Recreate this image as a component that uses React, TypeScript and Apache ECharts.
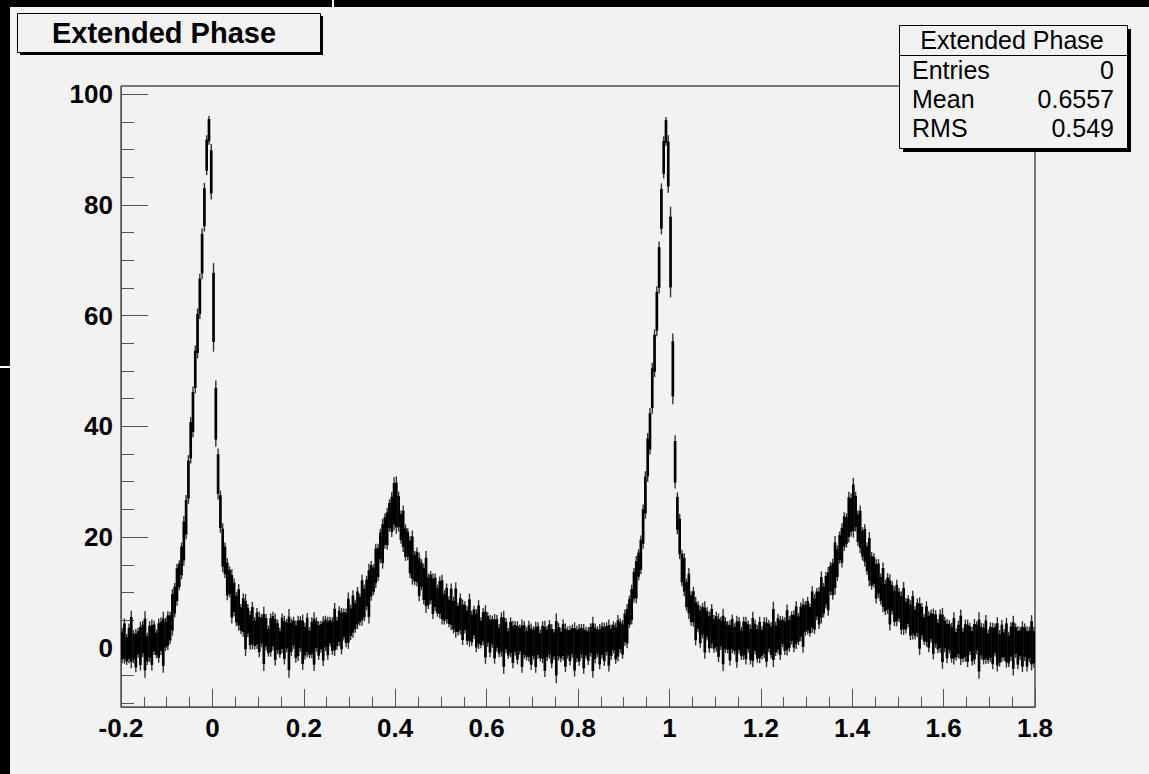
import React, { useEffect, useRef } from "react";
import * as echarts from "echarts";

// ---- Histogram "Extended Phase" (bin width 0.005 from -0.2 to 1.8) ----
const xStart = -0.2;
const binWidth = 0.005;

const binValues: number[] = [
  // -0.2 .. -0.1
  0.4, 1.2, -0.3, 0.8, 1.5, 0.2, -0.5, 0.9, 0.3, 1.6, 0.6, -0.2, 1.1, 0.5, 1.8, 0.7, 1.3, 2.1, 1.0, 2.4,
  // -0.1 .. 0 (peak 1 rising)
  3.1, 3.6, 6.4, 8.6, 11.4, 13.1, 15.7, 19.3, 23.6, 30.4, 37.5, 42.6, 50.3, 56.8, 63.5, 71.2, 79.6, 89.0, 93.5, 86.0,
  // 0 .. 0.1 (peak 1 falling)
  61.5, 42.3, 31.4, 24.6, 18.1, 15.8, 12.4, 11.9, 9.3, 9.1, 7.0, 7.3, 5.2, 5.9, 4.1, 4.9, 3.2, 4.0, 2.6, 3.5,
  // 0.1 .. 0.2
  2.4, 3.1, 1.6, 2.8, 1.2, 2.3, 3.0, 1.5, 2.0, 0.9, 2.6, 1.4, 2.2, 0.8, 1.9, 2.7, 1.1, 1.7, 2.5, 1.0,
  // 0.2 .. 0.3
  1.2, 2.3, 0.9, 1.8, 1.1, 2.4, 1.3, 2.0, 1.2, 2.6, 1.7, 2.9, 2.1, 3.3, 2.6, 3.9, 3.0, 4.2, 3.6, 4.9,
  // 0.3 .. 0.4 (peak 2 rising)
  4.6, 6.1, 5.7, 7.2, 6.9, 8.6, 8.1, 9.9, 9.8, 12.1, 12.3, 14.8, 15.4, 18.4, 18.8, 21.1, 21.5, 23.9, 24.1, 26.0,
  // 0.4 .. 0.5 (peak 2 falling)
  25.8, 24.6, 21.8, 21.5, 19.0, 18.7, 16.4, 16.3, 14.4, 14.6, 12.8, 13.2, 11.5, 11.9, 10.2, 10.9, 9.3, 10.0, 8.5, 9.1,
  // 0.5 .. 0.6
  8.7, 7.3, 8.0, 6.5, 7.4, 5.9, 6.8, 5.2, 6.1, 4.6, 5.5, 4.0, 5.0, 3.5, 4.6, 3.1, 4.2, 2.7, 3.8, 2.4,
  // 0.6 .. 0.7
  3.3, 2.1, 2.9, 1.6, 2.6, 1.3, 2.4, 1.0, 2.2, 0.8, 1.9, 0.6, 1.7, 0.9, 1.5, 0.3, 1.4, 0.7, 1.2, 0.2,
  // 0.7 .. 0.8
  0.9, 0.1, 1.3, 0.4, 1.0, -0.2, 0.8, 1.5, 0.3, 0.6, -0.1, 1.1, 0.5, 1.4, 0.0, 0.9, 0.4, 1.2, -0.3, 0.7,
  // 0.8 .. 0.9
  0.5, 1.2, -0.2, 0.9, 0.3, 1.4, 0.1, 0.8, 1.1, 0.2, 1.3, 0.6, 1.6, 0.4, 1.0, 1.9, 0.8, 1.7, 2.2, 1.5,
  // 0.9 .. 1.0 (peak 3 rising)
  3.6, 3.9, 6.5, 7.8, 11.3, 12.3, 15.0, 16.8, 21.9, 27.6, 34.4, 39.1, 46.9, 53.2, 60.8, 68.7, 79.3, 88.6, 93.3, 87.4,
  // 1.0 .. 1.1 (peak 3 falling)
  71.5, 50.4, 33.6, 24.3, 20.1, 14.4, 13.2, 9.6, 9.8, 7.1, 7.4, 4.8, 5.6, 3.8, 4.9, 3.2, 4.3, 2.8, 3.9, 2.5,
  // 1.1 .. 1.2
  2.9, 1.8, 2.6, 1.4, 2.3, 1.9, 0.9, 2.5, 1.6, 1.1, 2.2, 0.8, 1.7, 1.3, 2.0, 0.6, 1.5, 1.9, 0.7, 1.4,
  // 1.2 .. 1.3
  0.9, 1.8, 1.0, 2.1, 1.3, 2.4, 1.6, 2.5, 1.8, 2.9, 2.1, 3.2, 2.5, 3.6, 3.0, 4.1, 3.4, 4.7, 4.0, 5.3,
  // 1.3 .. 1.4 (peak 4 rising)
  5.8, 5.0, 6.9, 6.1, 7.9, 7.2, 9.1, 8.6, 10.4, 10.2, 12.5, 12.4, 14.9, 15.3, 18.1, 18.5, 21.0, 21.2, 23.6, 24.0,
  // 1.4 .. 1.5 (peak 4 falling)
  25.3, 24.6, 21.6, 21.4, 18.8, 18.5, 16.1, 16.0, 13.9, 14.0, 12.0, 12.5, 10.6, 10.9, 9.1, 9.8, 8.2, 9.0, 7.5, 8.1,
  // 1.5 .. 1.6
  7.7, 6.3, 7.1, 5.8, 6.6, 5.0, 5.9, 4.5, 5.4, 3.9, 4.8, 3.3, 4.3, 2.9, 3.9, 2.5, 3.4, 2.1, 3.0, 1.7,
  // 1.6 .. 1.7
  2.4, 1.2, 2.0, 0.9, 1.7, 0.6, 1.5, 1.9, 0.5, 1.3, 0.8, 1.6, 0.3, 1.1, 1.8, 0.4, 1.2, 0.7, 1.5, 0.2,
  // 1.7 .. 1.8
  1.0, 0.3, 1.4, 0.6, -0.1, 1.2, 0.5, 0.9, -0.3, 1.1, 0.4, 1.3, 0.0, 0.8, 0.2, 1.0, -0.2, 0.6, 0.9, 0.1,
];

const binErrors: number[] = [
  3.2, 4.1, 2.8, 3.6, 5.2, 3.0, 3.9, 2.7, 4.4, 3.3, 6.0, 2.9, 3.7, 4.6, 3.1, 2.6, 4.0, 3.4, 5.5, 3.0,
  3.5, 2.9, 4.2, 3.1, 3.8, 2.7, 3.3, 4.5, 4.0, 4.4, 4.2, 4.6, 4.3, 4.5, 4.1, 4.6, 4.4, 3.6, 2.6, 5.0,
  8.0, 6.0, 4.6, 3.8, 4.4, 3.2, 3.8, 2.8, 4.9, 3.4, 3.1, 4.2, 2.7, 3.9, 5.6, 3.0, 3.5, 4.3, 2.9, 3.7,
  4.1, 3.0, 5.8, 3.3, 2.8, 3.9, 3.5, 4.7, 3.1, 2.7, 3.6, 4.4, 3.0, 6.2, 3.4, 2.9, 3.8, 4.1, 3.2, 5.0,
  3.3, 4.0, 2.8, 3.7, 5.3, 3.1, 3.5, 2.9, 4.5, 3.2, 3.9, 2.7, 3.4, 4.8, 3.0, 3.6, 4.2, 2.9, 3.5, 5.1,
  3.2, 4.3, 3.0, 3.8, 2.9, 4.6, 3.3, 3.1, 5.4, 3.6, 2.8, 4.0, 3.4, 3.1, 4.5, 3.2, 3.8, 2.9, 4.1, 4.8,
  5.2, 3.6, 3.0, 4.2, 3.3, 2.9, 3.8, 4.9, 3.1, 3.5, 4.4, 2.8, 3.7, 5.6, 3.2, 3.0, 4.1, 3.4, 2.9, 3.8,
  4.5, 3.1, 3.6, 2.8, 4.2, 3.3, 5.0, 3.0, 3.7, 4.1, 2.9, 3.5, 4.8, 3.2, 3.0, 3.9, 4.4, 2.8, 3.4, 5.3,
  3.1, 3.8, 2.9, 4.5, 3.3, 3.0, 4.0, 5.7, 3.2, 2.8, 3.6, 4.3, 3.1, 3.9, 2.7, 4.8, 3.4, 3.0, 3.7, 4.2,
  3.0, 4.6, 3.3, 2.9, 3.8, 5.1, 3.2, 3.5, 4.0, 2.8, 6.3, 3.4, 3.1, 3.7, 4.4, 2.9, 3.6, 3.0, 4.9, 3.3,
  3.8, 3.1, 4.5, 2.9, 3.4, 3.0, 5.5, 3.6, 2.8, 4.1, 3.3, 3.9, 3.0, 4.7, 3.2, 2.9, 3.7, 4.2, 3.1, 3.5,
  3.3, 4.0, 2.9, 3.6, 3.1, 4.3, 2.8, 3.5, 4.0, 4.3, 4.4, 4.2, 4.6, 4.3, 4.5, 4.7, 4.6, 3.8, 2.6, 5.2,
  8.2, 6.4, 4.8, 3.8, 4.1, 3.3, 3.9, 2.9, 4.6, 3.1, 3.6, 4.4, 2.8, 3.8, 3.2, 5.2, 3.0, 3.7, 4.0, 3.4,
  3.6, 4.4, 3.0, 5.6, 3.2, 2.9, 4.1, 3.5, 2.8, 4.7, 3.3, 3.0, 3.9, 4.3, 2.9, 3.6, 5.0, 3.1, 3.4, 4.2,
  3.0, 3.7, 4.5, 2.9, 3.3, 5.9, 3.1, 3.6, 4.0, 2.8, 3.4, 4.6, 3.2, 3.0, 3.8, 4.3, 2.9, 3.5, 4.9, 3.1,
  3.4, 3.0, 4.2, 3.6, 2.9, 3.8, 4.7, 3.1, 3.3, 4.4, 3.0, 3.7, 5.3, 3.2, 2.9, 4.0, 3.5, 3.1, 4.6, 3.9,
  5.4, 3.6, 3.2, 4.3, 3.0, 3.8, 2.9, 4.9, 3.4, 3.1, 4.0, 3.5, 2.8, 4.5, 3.2, 3.7, 5.1, 3.0, 3.6, 4.2,
  3.1, 3.9, 4.8, 3.2, 2.9, 3.6, 4.4, 3.0, 3.5, 5.2, 3.3, 2.8, 4.1, 3.7, 3.0, 4.6, 3.4, 3.1, 3.9, 5.5,
  3.2, 4.0, 3.0, 3.6, 4.7, 2.9, 3.4, 5.0, 3.1, 3.8, 4.3, 2.9, 3.5, 4.1, 3.0, 6.0, 3.3, 3.7, 4.4, 3.1,
  3.6, 4.2, 3.0, 4.9, 3.3, 3.8, 2.9, 4.5, 3.2, 3.5, 5.4, 3.1, 3.9, 3.0, 4.6, 3.4, 4.1, 3.2, 5.0, 3.7,
];

const yMajorTicks = [0, 20, 40, 60, 80, 100];
const yMinorTicks = [-10, -5, 5, 10, 15, 25, 30, 35, 45, 50, 55, 65, 70, 75, 85, 90, 95];
const xMin = -0.2;
const xMax = 1.8;
const yMin = -10.7;
const yMax = 101.5;

const titleText = "Extended Phase";
const statsTitle = "Extended Phase";
const statsLabels = ["Entries", "Mean", "RMS"];
const statsValues = ["0", "0.6557", "0.549"];

const FONT = "'Liberation Sans', Arial, Helvetica, sans-serif";
const BG = "#f2f2f2";

export default function App() {
  const ref = useRef<HTMLDivElement>(null);

  useEffect(() => {
    document.body.style.margin = "0";
    document.body.style.background = BG;
    if (!ref.current) return;
    const chart = echarts.init(ref.current, null, { renderer: "svg" });

    const data = binValues.map((v, i) => [xStart + (i + 0.5) * binWidth, v, binErrors[i]]);

    const statsRows: any[] = [];
    statsLabels.forEach((lab, i) => {
      statsRows.push({
        type: "text",
        x: 912,
        y: 70 + i * 29,
        style: { text: lab, font: `25px ${FONT}`, fill: "#000", verticalAlign: "middle" },
        z: 20,
      });
      statsRows.push({
        type: "text",
        x: 1114,
        y: 70 + i * 29,
        style: {
          text: statsValues[i],
          font: `25px ${FONT}`,
          fill: "#000",
          align: "right",
          verticalAlign: "middle",
        },
        z: 20,
      });
    });

    chart.setOption({
      animation: false,
      backgroundColor: BG,
      grid: {
        left: 121,
        top: 86,
        right: 114,
        bottom: 67,
        show: true,
        borderColor: "#000",
        borderWidth: 1,
        backgroundColor: "transparent",
      },
      xAxis: {
        type: "value",
        min: xMin,
        max: xMax,
        interval: 0.2,
        axisLine: { show: true, onZero: false, lineStyle: { color: "#555", width: 1 } },
        axisTick: { show: true, inside: true, length: 18, lineStyle: { color: "#555", width: 1 } },
        minorTick: { show: true, splitNumber: 4, length: 10, lineStyle: { color: "#555", width: 1 } },
        splitLine: { show: false },
        minorSplitLine: { show: false },
        axisLabel: {
          color: "#000",
          fontSize: 26,
          fontWeight: "bold",
          fontFamily: FONT,
          margin: 8,
          formatter: (v: number) => String(Math.round(v * 10) / 10),
        },
      },
      yAxis: [
        {
          type: "value",
          min: yMin,
          max: yMax,
          axisLine: { show: true, onZero: false, lineStyle: { color: "#555", width: 1 } },
          axisTick: {
            show: true,
            inside: true,
            length: 27,
            customValues: yMajorTicks,
            lineStyle: { color: "#555", width: 1 },
          },
          splitLine: { show: false },
          axisLabel: {
            customValues: yMajorTicks,
            color: "#000",
            fontSize: 26,
            fontWeight: "bold",
            fontFamily: FONT,
            margin: 8,
          },
        },
        {
          type: "value",
          min: yMin,
          max: yMax,
          position: "left",
          axisLine: { show: false, onZero: false },
          axisTick: {
            show: true,
            inside: true,
            length: 13,
            customValues: yMinorTicks,
            lineStyle: { color: "#555", width: 1 },
          },
          splitLine: { show: false },
          axisLabel: { show: false },
        },
      ],
      series: [
        {
          type: "custom",
          clip: true,
          data,
          renderItem: (params: any, api: any) => {
            const x = api.value(0);
            const v = api.value(1);
            const e = api.value(2);
            const outerTop = api.coord([x, v + e]);
            const outerBot = api.coord([x, v - e]);
            const coreL = api.coord([x - binWidth / 2, v + e * 0.78]);
            const coreR = api.coord([x + binWidth / 2, v - e * 0.78]);
            return {
              type: "group",
              children: [
                {
                  type: "line",
                  shape: { x1: outerTop[0], y1: outerTop[1], x2: outerBot[0], y2: outerBot[1] },
                  style: { stroke: "#333", lineWidth: 1.4 },
                },
                {
                  type: "rect",
                  shape: {
                    x: coreL[0] - 0.2,
                    y: coreL[1],
                    width: coreR[0] - coreL[0] + 0.4,
                    height: coreR[1] - coreL[1],
                  },
                  style: { fill: "#000" },
                },
              ],
            };
          },
        },
      ],
      graphic: [
        // screen edges
        { type: "rect", left: 0, top: 0, shape: { width: 1149, height: 7 }, style: { fill: "#000" }, z: 30 },
        { type: "rect", left: 0, top: 0, shape: { width: 10, height: 774 }, style: { fill: "#000" }, z: 30 },
        { type: "rect", left: 332, top: 0, shape: { width: 2, height: 7 }, style: { fill: "#fff" }, z: 31 },
        { type: "rect", left: 0, top: 366, shape: { width: 10, height: 2 }, style: { fill: "#fff" }, z: 31 },
        // title box
        { type: "rect", left: 20, top: 16, shape: { width: 303, height: 39 }, style: { fill: "#000" }, z: 10 },
        {
          type: "rect",
          left: 17,
          top: 13,
          shape: { width: 303, height: 39 },
          style: { fill: BG, stroke: "#000", lineWidth: 1 },
          z: 11,
        },
        {
          type: "text",
          x: 164,
          y: 33,
          style: {
            text: titleText,
            font: `bold 29px ${FONT}`,
            fill: "#000",
            align: "center",
            verticalAlign: "middle",
          },
          z: 12,
        },
        // stats box
        { type: "rect", left: 903, top: 29, shape: { width: 228, height: 123 }, style: { fill: "#000" }, z: 18 },
        {
          type: "rect",
          left: 899,
          top: 25,
          shape: { width: 228, height: 123 },
          style: { fill: BG, stroke: "#000", lineWidth: 1 },
          z: 19,
        },
        {
          type: "line",
          shape: { x1: 899, y1: 55.5, x2: 1127, y2: 55.5 },
          style: { stroke: "#000", lineWidth: 1 },
          z: 20,
        },
        {
          type: "text",
          x: 1012,
          y: 40,
          style: {
            text: statsTitle,
            font: `25px ${FONT}`,
            fill: "#000",
            align: "center",
            verticalAlign: "middle",
          },
          z: 20,
        },
        ...statsRows,
      ],
    });

    return () => chart.dispose();
  }, []);

  return (
    <div
      ref={ref}
      style={{ position: "fixed", left: 0, top: 0, width: 1149, height: 774, background: BG }}
    />
  );
}
